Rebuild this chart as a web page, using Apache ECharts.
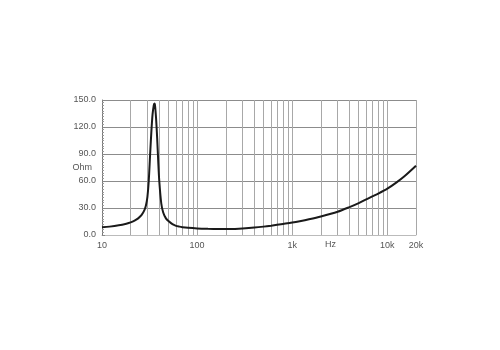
<!DOCTYPE html>
<html>
<head>
<meta charset="utf-8">
<script src="https://cdn.jsdelivr.net/npm/echarts@6/dist/echarts.min.js"></script>
<style>html,body{margin:0;padding:0;background:#fff;}#c{width:500px;height:350px;}</style>
</head>
<body>
<div id="c"></div>
<script>
// Frequency (Hz) and impedance (Ohm)
const freq = [10, 12, 15, 18, 20, 22, 24, 26, 28, 29, 30, 31, 32, 33, 34, 35, 35.5, 36, 37, 38, 39, 40, 42, 44, 47, 50, 55, 60, 65, 70, 80, 100, 130, 170, 200, 250, 300, 400, 500, 600, 800, 1000, 1200, 1500, 2000, 3000, 4000, 5000, 6000, 8000, 10000, 12500, 15000, 20000];
const ohm  = [8.5, 9.3, 10.8, 12.6, 14, 16, 18.5, 22, 28, 33, 42, 60, 88, 114, 134, 144, 146, 145, 130, 108, 82, 60, 35, 25, 18.5, 15.5, 12, 10.2, 9.3, 8.7, 8, 7.3, 6.9, 6.7, 6.6, 6.8, 7.2, 8.2, 9.3, 10.4, 12.3, 13.8, 15.3, 17.4, 20.5, 25.8, 31, 35.5, 39.6, 46, 51.5, 58.5, 65, 77];
// Minor vertical grid lines (Hz)
const minorGrid = [20,30,40,50,60,70,80,90,200,300,400,500,600,700,800,900,2000,3000,4000,5000,6000,7000,8000,9000,20000];
const yTicks = [0, 30, 60, 90, 120, 150];

const chart = echarts.init(document.getElementById('c'));
const font = 'Liberation Sans, Arial, sans-serif';

chart.setOption({
  animation: false,
  grid: { left: 102, right: 84, top: 100, bottom: 115, containLabel: false },
  xAxis: {
    type: 'log', logBase: 10, min: 10, max: 20000,
    axisLine: { show: true, lineStyle: { color: '#bbb', width: 1 } },
    axisTick: { show: false },
    axisLabel: {
      color: '#555', fontSize: 9, fontFamily: font, margin: 6,
      formatter: v => v >= 1000 ? (v / 1000) + 'k' : String(v)
    },
    splitLine: { show: true, lineStyle: { color: '#a8a8a8', width: 1 } }
  },
  yAxis: {
    type: 'value', min: yTicks[0], max: yTicks[yTicks.length - 1], interval: 30,
    name: 'Ohm', nameLocation: 'middle', nameRotate: 0, nameGap: 10, nameMoveOverlap: false,
    nameTextStyle: { color: '#555', fontSize: 9, fontFamily: font, align: 'right', verticalAlign: 'middle' },
    axisLine: { show: true, lineStyle: { color: '#777', width: 1 } },
    axisTick: { show: true, inside: true, length: 3, lineStyle: { color: '#888' } },
    minorTick: { show: true, splitNumber: 10, length: 2, lineStyle: { color: '#999' } },
    axisLabel: { color: '#555', fontSize: 9, fontFamily: font, margin: 6, formatter: v => v.toFixed(1) },
    splitLine: { show: true, lineStyle: { color: '#8c8c8c', width: 1 } }
  },
  graphic: [{
    type: 'text', left: 325, top: 240,
    style: { text: 'Hz', fill: '#555', font: '9px ' + font }
  }],
  series: [{
    type: 'line',
    data: freq.map((f, i) => [f, ohm[i]]),
    smooth: 0.3,
    showSymbol: false,
    lineStyle: { color: '#1a1a1a', width: 2 },
    z: 5,
    markLine: {
      silent: true, symbol: 'none', animation: false,
      label: { show: false },
      lineStyle: { color: '#a8a8a8', type: 'solid', width: 1 },
      data: minorGrid.map(v => ({ xAxis: v }))
    }
  }]
});
</script>
</body>
</html>
